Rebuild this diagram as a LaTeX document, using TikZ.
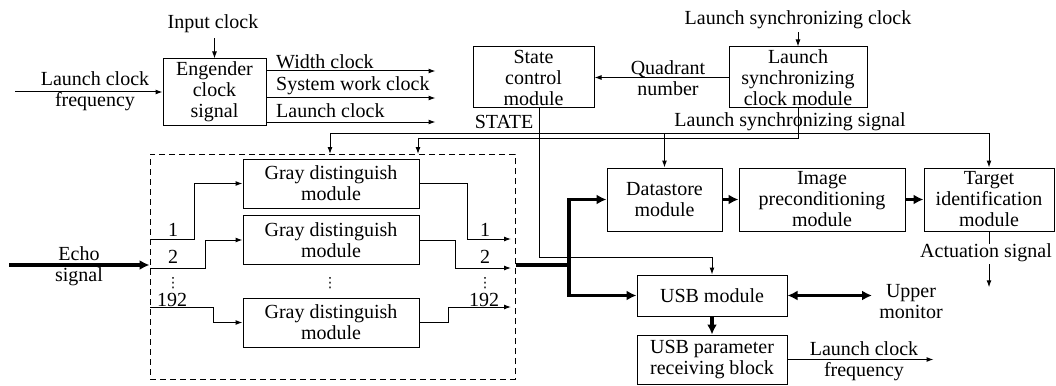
\documentclass[tikz,border=0pt]{standalone}
\usepackage{fontspec}
\setmainfont{Liberation Serif}
\newfontfamily\symfont{DejaVu Sans}
\usetikzlibrary{arrows.meta}

\begin{document}
\begin{tikzpicture}[x=1pt,y=-1pt,font=\fontsize{20}{21}\selectfont,
  box/.style={draw,rectangle,line width=1pt,inner sep=0pt,align=center},
  lbl/.style={inner sep=0pt,align=center},
  dots/.style={inner sep=0pt,font=\symfont\fontsize{14}{14}\selectfont},
  wire/.style={line width=1pt,-{Latex[length=7pt,width=5pt]}},
  fat/.style={line width=3.5pt,-{Latex[length=10pt,width=10pt]}},
  fatboth/.style={line width=3.5pt,{Latex[length=10pt,width=10pt]}-{Latex[length=10pt,width=10pt]}}]
\useasboundingbox (0,0) rectangle (1056,385);

\node[box,minimum width=103pt,minimum height=66pt] (eng) at (214.5,92) {Engender\\clock\\signal};
\node[lbl] (inclk) at (213,24) {Input clock};
\draw[wire] ([yshift=-5pt]eng.north |- inclk.south) -- (eng.north);
\node[lbl] (lcfin) at (95,91) {Launch clock\\frequency};
\coordinate (lcfa) at (15,92);
\draw[wire] (lcfa) -- (lcfa -| eng.west);
\draw[wire] ([yshift=21pt]eng.east) -- ++(169,0);
\draw[wire] ([yshift=-6pt]eng.east) -- ++(169,0);
\draw[wire] ([yshift=-30pt]eng.east) -- ++(169,0);
\node[lbl,anchor=west] (wclk) at (276,62) {Width clock};
\node[lbl,anchor=west] (sclk) at (276,86) {System work clock};
\node[lbl,anchor=west] (lclk) at (276,111) {Launch clock};

\node[box,minimum width=121pt,minimum height=61pt] (state) at (533.5,77.5) {State\\control\\module};
\node[box,minimum width=138pt,minimum height=61pt] (lsync) at (798,77.5) {Launch\\synchronizing\\clock module};
\node[lbl] (lsclk) at (798,20) {Launch synchronizing clock};
\draw[wire] ([yshift=-3pt]lsclk.south) -- (lsync.north);
\node[lbl] (quad) at (668,78) {Quadrant\\number};
\draw[wire] (lsync.west) -- (state.east);
\node[lbl] (stlbl) at (504,122) {STATE};
\node[lbl] (lssig) at (790,122) {Launch synchronizing signal};

\node[draw,line width=1pt,dash pattern=on 6pt off 4pt,minimum width=365pt,minimum height=225pt] (grp) at (332.5,266.5) {};
\node[box,minimum width=176pt,minimum height=49pt] (gray1) at (331,183.5) {Gray distinguish\\module};
\node[box,minimum width=176pt,minimum height=49pt] (gray2) at (331,240) {Gray distinguish\\module};
\node[box,minimum width=176pt,minimum height=49pt] (gray3) at (331,322.5) {Gray distinguish\\module};
\node[dots] (gdots) at (330,283) {⋮};

\coordinate (in1) at (150,239);
\coordinate (in2) at (150,268);
\coordinate (in3) at (150,307);
\coordinate (out1) at (511,239);
\coordinate (out2) at (511,268);
\coordinate (out3) at (511,307);
\draw[wire] (in1) -| ([xshift=-48pt]gray1.west) -- (gray1.west);
\draw[wire] (in2) -| ([xshift=-37pt]gray2.west) -- (gray2.west);
\draw[wire] (in3) -| ([xshift=-29pt]gray3.west) -- (gray3.west);
\draw[wire] (gray1.east) -- ++(48,0) |- (out1);
\draw[wire] (gray2.east) -- ++(36,0) |- (out2);
\draw[wire] (gray3.east) -- ++(29,0) |- (out3);
\node[lbl,anchor=base] (n1l) at (173,236) {1};
\node[lbl,anchor=base] (n2l) at (173,263) {2};
\node[dots] (dl) at (173,283) {⋮};
\node[lbl,anchor=base] (n192l) at (172,306) {192};
\node[lbl,anchor=base] (n1r) at (485,236) {1};
\node[lbl,anchor=base] (n2r) at (485,263) {2};
\node[dots] (dr) at (485,283) {⋮};
\node[lbl,anchor=base] (n192r) at (484,306) {192};

\node[lbl] (echo) at (79,266) {Echo\\signal};
\coordinate (ein) at (9,265);
\draw[fat] (ein) -- (ein -| grp.west);

\node[box,minimum width=115pt,minimum height=63pt] (data) at (664.5,199.5) {Datastore\\module};
\node[box,minimum width=166pt,minimum height=63pt] (img) at (822,199.5) {Image\\preconditioning\\module};
\node[box,minimum width=130pt,minimum height=63pt] (tgt) at (989,199.5) {Target\\identification\\module};
\draw[fat] (data) -- (img);
\draw[fat] (img) -- (tgt);

\node[box,minimum width=150pt,minimum height=41pt] (usb) at (712,295.5) {USB module};
\node[box,minimum width=150pt,minimum height=49pt] (param) at (712,359.5) {USB parameter\\receiving block};
\draw[fat] (usb) -- (param);
\coordinate (mon) at (872,296);
\draw[fatboth] (usb.east) -- (usb.east -| mon);
\node[lbl] (upmon) at (911,302) {Upper\\monitor};
\draw[wire] (param.east) -- ++(146,0);
\node[lbl] (lcfout) at (864,361) {Launch clock\\frequency};

\coordinate (bus) at (569,265);
\draw[line width=3.5pt] (grp.east |- bus) -- (bus);
\draw[fat] (bus) |- (data.west);
\draw[fat] (bus) |- (usb.west);

\node[lbl] (act) at (986,253) {Actuation signal};
\draw[line width=1pt] (tgt.south) -- (tgt.south |- act.north);
\draw[wire] ([yshift=-2pt]tgt.south |- act.south) -- ++(0,23);

\draw[wire] ([xshift=5.5pt]state.south) |- ([yshift=17pt]usb.north) -- (usb.north);

\coordinate (t1) at (330,154);
\coordinate (t2) at (418,154);
\coordinate (sig) at (330,133);
\draw[wire] (lsync.south) |- ([yshift=16pt]t2) -- (t2);
\draw[wire] (sig) -- (t1);
\draw[wire] (sig) -| (tgt.north);
\draw[wire] (sig -| data.north) -- (data.north);
\end{tikzpicture}
\end{document}
